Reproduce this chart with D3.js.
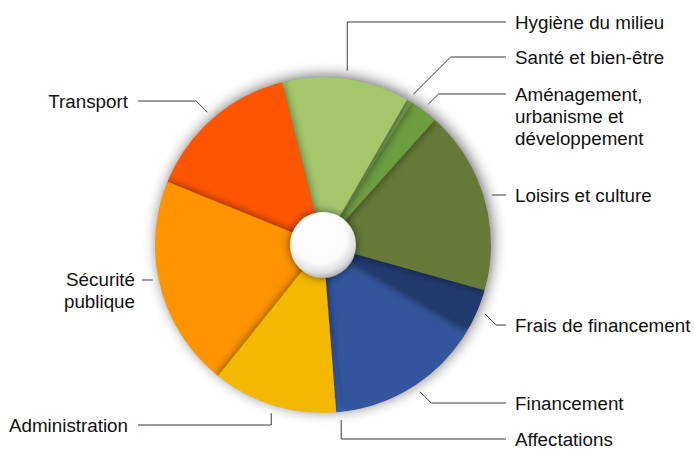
<!DOCTYPE html>
<html>
<head>
<meta charset="utf-8">
<script src="https://cdn.jsdelivr.net/npm/d3@7"></script>
<style>
  body { margin: 0; background: #fff; }
  text { font-family: "Liberation Sans", Arial, sans-serif; }
</style>
</head>
<body>
<div class="budget"></div>
<script>
// categories in clockwise order, starting from Administration
const categories = ['Administration', 'Sécurité publique', 'Transport', 'Hygiène du milieu',
  'Santé et bien-être', 'Aménagement, urbanisme et développement', 'Loisirs et culture',
  'Frais de financement', 'Financement', 'Affectations']
// share of budget, percent
const values = [12.0, 20.4, 14.9, 12.3, 0.5, 2.75, 17.75, 4.1, 14.5, 0.8]
const colors = ['#F5B800', '#FD9400', '#FF5400', '#A4C76C', '#7B9F52', '#6E9D3F',
  '#667937', '#223A6E', '#33549D', '#3D6CC8']
// label text lines, side and how the leader bends
const labelLines = [['Administration'], ['Sécurité', 'publique'], ['Transport'], ['Hygiène du milieu'],
  ['Santé et bien-être'], ['Aménagement,', 'urbanisme et', 'développement'], ['Loisirs et culture'],
  ['Frais de financement'], ['Financement'], ['Affectations']]
const labelY = [425, 279, 101, 22, 57, 94, 195, 325, 403, 439]
const labelSide = ['left', 'left', 'left', 'right', 'right', 'right', 'right', 'right', 'right', 'right']
const leaderKind = ['vert', 'stub', 'diag', 'vert', 'diag', 'diag', 'diag', 'diag', 'diag', 'vert']

const startDeg = 175.5

const svg = d3.select('.budget').append('svg')
  .attr('width', 694)
  .attr('height', 453)

const cx = 323, cy = 245
const R = 168, hole = 33

const defs = svg.append('defs')

// shadow used by every slice
const f = defs.append('filter').attr('id', 'sliceShadow')
  .attr('x', '-50%').attr('y', '-50%').attr('width', '200%').attr('height', '200%')
f.append('feGaussianBlur').attr('in', 'SourceAlpha').attr('stdDeviation', 5).attr('result', 'b')
f.append('feFlood').attr('flood-color', '#000').attr('flood-opacity', 0.55)
f.append('feComposite').attr('in2', 'b').attr('operator', 'in').attr('result', 's')
const fm = f.append('feMerge')
fm.append('feMergeNode').attr('in', 's')
fm.append('feMergeNode').attr('in', 'SourceGraphic')

const blur = defs.append('filter').attr('id', 'outer')
  .attr('x', '-30%').attr('y', '-30%').attr('width', '160%').attr('height', '160%')
blur.append('feGaussianBlur').attr('stdDeviation', 7)

defs.append('clipPath').attr('id', 'pieClip')
  .append('circle').attr('r', R)

const grad = defs.append('radialGradient').attr('id', 'holeGrad')
  .attr('cx', '45%').attr('cy', '38%').attr('r', '62%')
grad.append('stop').attr('offset', '0%').attr('stop-color', '#ffffff')
grad.append('stop').attr('offset', '65%').attr('stop-color', '#fbfbfb')
grad.append('stop').attr('offset', '88%').attr('stop-color', '#dedede')
grad.append('stop').attr('offset', '100%').attr('stop-color', '#b2b2b2')

const g = svg.append('g')
  .attr('transform', `translate(${cx}, ${cy})`)

// soft glow around the whole disc
g.append('circle')
  .attr('r', R)
  .attr('cx', 2).attr('cy', -2)
  .attr('fill', '#000')
  .attr('opacity', 0.55)
  .attr('filter', 'url(#outer)')

const pie = d3.pie().sort(null)
  .startAngle(startDeg * Math.PI / 180)
  .endAngle(startDeg * Math.PI / 180 + 2 * Math.PI)
const arcs = pie(values)

const arc = d3.arc().innerRadius(0).outerRadius(R)

// drawn backwards so each slice casts its shadow on the next one clockwise
const slices = g.append('g').attr('clip-path', 'url(#pieClip)')
slices.selectAll('path')
  .data(arcs.slice().reverse())
  .enter()
  .append('path')
  .attr('d', arc)
  .attr('fill', d => colors[d.index])
  .attr('filter', 'url(#sliceShadow)')

g.append('circle')
  .attr('r', hole)
  .attr('fill', 'url(#holeGrad)')
  .attr('filter', 'url(#sliceShadow)')

// leaders and labels
const rightEnd = 506, leftEnd = 138
const labels = svg.append('g')

arcs.forEach((d, i) => {
  const mid = (d.startAngle + d.endAngle) / 2
  const sx = cx + (R + 8) * Math.sin(mid)
  const sy = cy - (R + 8) * Math.cos(mid)
  const ly = labelY[i]
  const right = labelSide[i] === 'right'
  const endX = right ? rightEnd : leftEnd
  let pts
  if (leaderKind[i] === 'vert') {
    pts = [[sx, sy], [sx, ly], [endX, ly]]
  } else if (leaderKind[i] === 'diag') {
    const dx = Math.abs(ly - sy) * (right ? 1 : -1)
    pts = [[sx, sy], [sx + dx, ly], [endX, ly]]
  } else {
    // short horizontal stub next to the rim
    const ex = cx - Math.sqrt(R * R - (ly + 1 - cy) * (ly + 1 - cy)) - 6
    pts = [[ex, ly + 1], [endX + 4, ly + 1]]
  }
  labels.append('path')
    .attr('d', d3.line()(pts))
    .attr('fill', 'none')
    .attr('stroke', '#3a3a3a')
    .attr('stroke-width', 1)

  const tx = right ? 515 : (leaderKind[i] === 'stub' ? 135 : 128)
  const t = labels.append('text')
    .attr('x', tx)
    .attr('y', ly)
    .attr('text-anchor', right ? 'start' : 'end')
    .attr('font-size', '18.8px')
    .attr('fill', '#111')
  labelLines[i].forEach((line, k) => {
    t.append('tspan')
      .attr('x', tx)
      .attr('dy', k === 0 ? '0.35em' : '22px')
      .text(line)
  })
})
</script>
</body>
</html>
